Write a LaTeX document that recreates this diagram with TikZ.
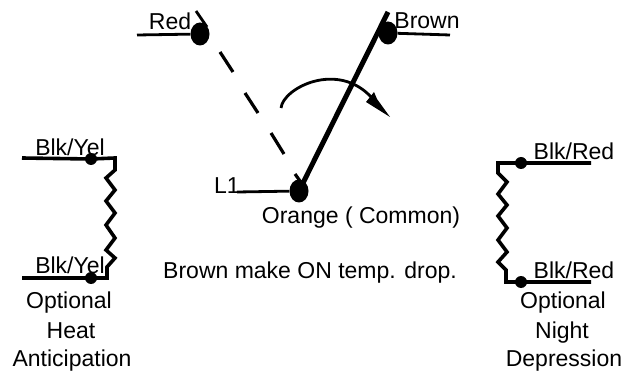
\documentclass[tikz,border=0pt]{standalone}
\usepackage{fontspec}
\setmainfont{Liberation Sans}
\usetikzlibrary{shapes.geometric,arrows.meta}
\tikzset{
  lab/.style={inner sep=0pt,anchor=base,font=\fontsize{23}{27}\selectfont},
  contact/.style={ellipse,fill=black,inner sep=0pt,minimum width=19pt,minimum height=23pt},
  tiny dot/.style={circle,fill=black,inner sep=0pt,minimum size=12pt},
  wire/.style={line width=2.8pt},
  coil/.style={line width=3.6pt},
  heavy/.style={line width=5pt},
  dashwire/.style={line width=3.2pt},
  pt/.style={coordinate}
}
\begin{document}
\begin{tikzpicture}[x=1pt,y=-1pt]
\useasboundingbox (0,0) rectangle (626,371);
% contacts
\node[contact] (red) at (200,34) {};
\node[contact] (brown) at (388,33) {};
\node[contact] (common) at (299,191) {};
\coordinate (redL) at (137,35);
\coordinate (redT) at (196,11);
\coordinate (brownR) at (450,35);
\coordinate (brownT) at (388,12);
\coordinate (l1) at (237,192);
\draw[wire] (redL) -- (red);
\draw[wire] (redT) -- (207,27);
\draw[wire] (brown) -- (brownR);
\draw[wire] (l1) -- (common);
\draw[heavy] (common.center) -- (brownT);
% dashed pole
\draw[dashwire] (220,52) -- (233,72);
\draw[dashwire] (245,93) -- (258,113);
\draw[dashwire] (271,133) -- (284,154);
\draw[dashwire] (295,174) -- (300,181);
% motion arrow
\coordinate (arcS) at (281,108);
\coordinate (arcE) at (372,98);
\draw[line width=2.8pt] (arcS) .. controls (283,88) and (338,60) .. (arcE);
\fill (390,117) -- (366,102) -- (374,92) -- (377,99) -- cycle;
% left resistor
\node[tiny dot] (la) at (91,159) {};
\node[tiny dot] (lb) at (91,278) {};
\coordinate (la0) at (22,158);
\coordinate (lb0) at (22,278);
\draw[coil] (la0) -- (la.center) -- (115,158) -- (115,170) -- (106,178) -- (115,190) -- (106,201) -- (115,213) -- (106,225) -- (115,238) -- (106,250) -- (115,258) -- (107,267) -- (107,278) -- (lb.center) -- (lb0);
% right resistor
\node[tiny dot] (ra) at (521,163) {};
\node[tiny dot] (rb) at (521,282) {};
\coordinate (ra0) at (591,163);
\coordinate (rb0) at (591,282);
\draw[coil] (ra0) -- (ra.center) -- (498,163) -- (498,173) -- (507,182) -- (498,194) -- (507,205) -- (498,216) -- (507,228) -- (498,240) -- (507,252) -- (498,262) -- (506,270) -- (506,282) -- (rb.center) -- (rb0);
% labels
\node[lab] (tRed) at (170,30) {Red};
\node[lab] (tBrown) at (427,29) {Brown};
\node[lab] (tL1) at (227,194) {L1};
\node[lab] (tOrange) at (361,224) {Orange ( Common)};
\node[lab] (tDrop) at (310,279) {Brown make ON temp. drop.};
\node[lab] (tLa) at (70,156) {Blk/Yel};
\node[lab] (tLb) at (70,273) {Blk/Yel};
\node[lab] (tRa) at (574,160) {Blk/Red};
\node[lab] (tRb) at (574,278) {Blk/Red};
\node[lab] (tO1) at (69,308) {Optional};
\node[lab] (tO2) at (71,338) {Heat};
\node[lab] (tO3) at (72,366) {Anticipation};
\node[lab] (tN1) at (563,308) {Optional};
\node[lab] (tN2) at (562,338) {Night};
\node[lab] (tN3) at (564,366) {Depression};
\end{tikzpicture}
\end{document}
